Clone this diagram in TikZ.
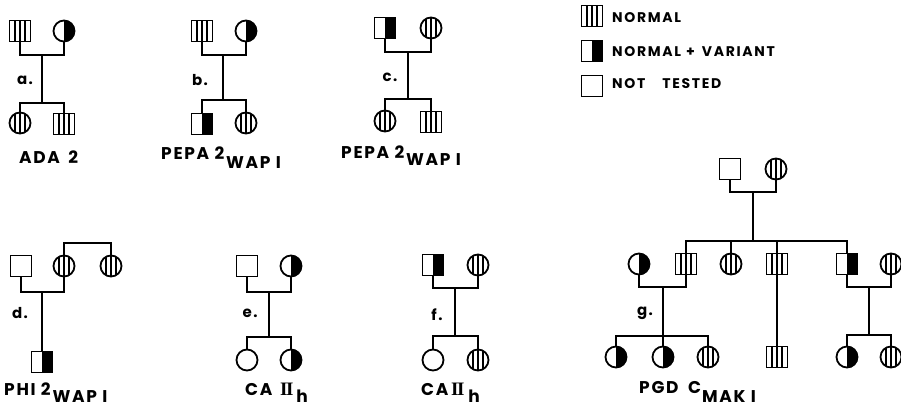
\documentclass[tikz,border=0pt]{standalone}
\usepackage{fontspec}
\setmainfont{Poppins}
\newfontfamily\labfont{Poppins}[LetterSpace=10]
\newfontfamily\legfont{Poppins}[LetterSpace=12]
\newfontfamily\romfont{Liberation Serif}
\usetikzlibrary{calc}
\tikzset{
  ln/.style={line width=2pt},
  sym/.style={draw, line width=1.8pt, minimum size=21pt, inner sep=0pt, outer sep=0pt},
  sq/.style={sym, rectangle},
  ci/.style={sym, circle},
  hatch/.style={path picture={\foreach \dx in {-5,0,5}
      \draw[line width=1.3pt] ([xshift=\dx pt]path picture bounding box.north) -- ([xshift=\dx pt]path picture bounding box.south);}},
  half/.style={path picture={\fill (path picture bounding box.north) rectangle (path picture bounding box.south east);}},
  lab/.style={font=\labfont\bfseries\fontsize{17}{17}\selectfont, inner sep=0pt, text depth=0pt, anchor=base west},
  sub/.style={lab, anchor=base west, xshift=1.5pt, yshift=-9pt},
  rom/.style={font=\romfont\bfseries\fontsize{19}{19}\selectfont, inner sep=0pt, text depth=0pt, anchor=base west},
  leg/.style={font=\legfont\bfseries\fontsize{14}{14}\selectfont, inner sep=0pt, anchor=base west},
  pl/.style={font=\labfont\bfseries\fontsize{15}{15}\selectfont, inner sep=0pt},
}
\begin{document}
\begin{tikzpicture}[x=1pt,y=-1pt]
\useasboundingbox (0,0) rectangle (901,408);
% ---------- a
\node[sq,hatch] (a1) at (20,31) {};
\node[ci,half]  (a2) at (64,31) {};
\coordinate (aj) at (42,55);
\coordinate (ak) at (42,103);
\node[ci,hatch] (a3) at (20,123) {};
\node[sq,hatch] (a4) at (64,124) {};
\draw[ln] (a1.south) |- (aj) -| (a2.south);
\draw[ln] (aj) -- (ak);
\draw[ln] (a3.north) |- (ak) -| (a4.north);
\node[pl] (la) at (25,80) {a.};
\node[lab] (ta) at (19,163) {ADA\hspace{3pt} 2};
% ---------- b
\node[sq,hatch] (b1) at (202,31) {};
\node[ci,half]  (b2) at (246,31) {};
\coordinate (bj) at (223,55);
\coordinate (bk) at (223,100);
\node[sq,half]  (b3) at (202,124) {};
\node[ci,hatch] (b4) at (246,123) {};
\draw[ln] (b1.south) |- (bj) -| (b2.south);
\draw[ln] (bj) -- (bk);
\draw[ln] (b3.north) |- (bk) -| (b4.north);
\node[pl] (lb) at (200,80) {b.};
\node[lab] (tb1) at (161,159) {PEPA 2};
\node[sub] (tb2) at (tb1.base east) {WAP I};
% ---------- c
\node[sq,half]  (c1) at (385,28) {};
\node[ci,hatch] (c2) at (431,28) {};
\coordinate (cj) at (408,52);
\coordinate (ck) at (408,99);
\node[ci,hatch] (c3) at (385,121) {};
\node[sq,hatch] (c4) at (431,122) {};
\draw[ln] (c1.south) |- (cj) -| (c2.south);
\draw[ln] (cj) -- (ck);
\draw[ln] (c3.north) |- (ck) -| (c4.north);
\node[pl] (lc) at (390,77) {c.};
\node[lab] (tc1) at (341,158) {PEPA 2};
\node[sub, yshift=2pt] (tc2) at (tc1.base east) {WAP I};
% ---------- legend
\node[sq,hatch] (k1) at (592,16) {};
\node[sq,half]  (k2) at (592,51) {};
\node[sq]       (k3) at (592,86) {};
\node[leg] (tk1) at (612,22) {NORMAL};
\node[leg] (tk2) at (612,56) {NORMAL\hspace{5pt}+\hspace{7pt}VARIANT};
\node[leg] (tk3) at (612,88) {NOT\hspace{17pt}TESTED};
% ---------- d
\node[sq]       (d1) at (21,266) {};
\node[ci,hatch] (d2) at (64,266) {};
\node[ci,hatch] (d3) at (111,266) {};
\coordinate (dt) at (87,243);
\coordinate (dj) at (42,292);
\node[sq,half]  (d4) at (42,362) {};
\draw[ln] (d2.north) |- (dt) -| (d3.north);
\draw[ln] (d1.south) |- (dj) -| (d2.south);
\draw[ln] (dj) -- (d4.north);
\node[pl] (ld) at (20,313) {d.};
\node[lab] (td1) at (4,395) {PHI 2};
\node[sub, yshift=2pt] (td2) at (td1.base east) {WAP I};
% ---------- e
\node[sq]      (e1) at (247,266) {};
\node[ci,half] (e2) at (291,266) {};
\coordinate (ej) at (269,292);
\coordinate (ek) at (269,337);
\node[ci]      (e3) at (247,360) {};
\node[ci,half] (e4) at (291,360) {};
\draw[ln] (e1.south) |- (ej) -| (e2.south);
\draw[ln] (ej) -- (ek);
\draw[ln] (e3.north) |- (ek) -| (e4.north);
\node[pl] (le) at (250,313) {e.};
\node[lab] (te1) at (245,395) {CA};
\node[rom] (te2) at (280,395) {I\kern-1.5ptI};
\node[sub, xshift=1pt, yshift=1.5pt] (te3) at (te2.base east) {h};
% ---------- f
\node[sq,half]  (f1) at (433,265) {};
\node[ci,hatch] (f2) at (478,265) {};
\coordinate (fj) at (455,288);
\coordinate (fk) at (455,336);
\node[ci]       (f3) at (433,360) {};
\node[ci,hatch] (f4) at (478,360) {};
\draw[ln] (f1.south) |- (fj) -| (f2.south);
\draw[ln] (fj) -- (fk);
\draw[ln] (f3.north) |- (fk) -| (f4.north);
\node[pl] (lf) at (437,315) {f.};
\node[lab] (tf1) at (421,395) {CA};
\node[rom] (tf2) at (451,395) {I\kern-1.5ptI};
\node[sub, xshift=2pt, yshift=1.5pt] (tf3) at (tf2.base east) {h};
% ---------- g
\node[sq]       (g1) at (730,169) {};
\node[ci,hatch] (g2) at (776,169) {};
\coordinate (gj) at (753,192);
\coordinate (gk) at (753,241);
\node[ci,half]  (g3) at (639,264) {};
\node[sq,hatch] (g4) at (686,264) {};
\node[ci,hatch] (g5) at (731,264) {};
\node[sq,hatch] (g6) at (777,264) {};
\node[sq,half]  (g7) at (847,264) {};
\node[ci,hatch] (g8) at (891,264) {};
\draw[ln] (g1.south) |- (gj) -| (g2.south);
\draw[ln] (gj) -- (gk);
\draw[ln] (g4.north) |- (gk) -| (g7.north);
\draw[ln] (g5.north) -- (g5.north |- gk);
\draw[ln] (g6.north) -- (g6.north |- gk);
\coordinate (gl) at (663,287);
\coordinate (gm) at (663,336);
\node[ci,half]  (g9) at (616,357) {};
\node[ci,half]  (g10) at (663,357) {};
\node[ci,hatch] (g11) at (708,357) {};
\draw[ln] (g3.south) |- (gl) -| (g4.south);
\draw[ln] (gl) -- (g10.north);
\draw[ln] (g9.north) |- (gm) -| (g11.north);
\node[sq,hatch] (g12) at (777,357) {};
\draw[ln] (g6.south) -- (g12.north);
\coordinate (gn) at (869,287);
\coordinate (go) at (869,335);
\node[ci,half]  (g13) at (847,357) {};
\node[ci,hatch] (g14) at (891,357) {};
\draw[ln] (g7.south) |- (gn) -| (g8.south);
\draw[ln] (gn) -- (go);
\draw[ln] (g13.north) |- (go) -| (g14.north);
\node[pl] (lg) at (645,313) {g.};
\node[lab] (tg1) at (639,393) {PGD};
\node[lab] (tg2) at (688,393) {C};
\node[sub, xshift=-1pt] (tg3) at (tg2.base east) {MAK I};
\end{tikzpicture}
\end{document}
